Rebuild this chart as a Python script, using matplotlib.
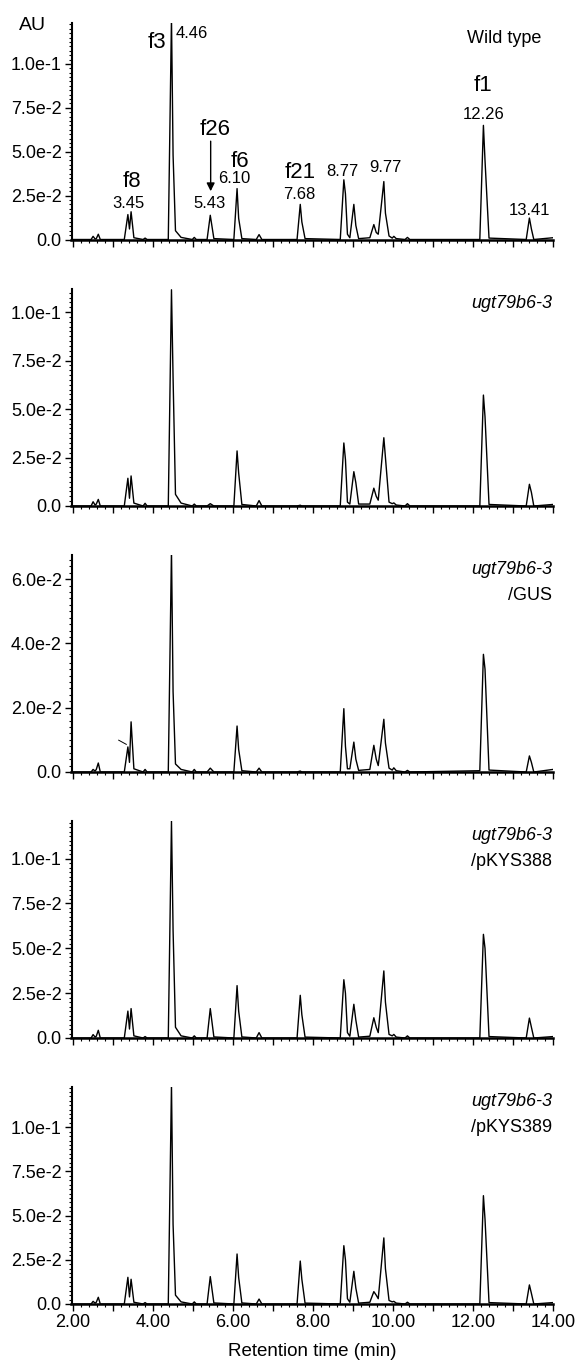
import numpy as np
import matplotlib
matplotlib.use("Agg")
import matplotlib.pyplot as plt
from matplotlib.ticker import MultipleLocator, FuncFormatter

plt.rcParams['font.family'] = ['Liberation Sans', 'DejaVu Sans']

# retention times (min) of the trace vertices, shared by all five runs
rt = [1.95, 2.45, 2.50, 2.55, 2.58, 2.63, 2.68,
      3.28, 3.37, 3.41, 3.45, 3.52,
      3.75, 3.80, 3.85,
      4.38, 4.46, 4.50, 4.56, 4.70,
      4.98, 5.03, 5.08,
      5.35, 5.43, 5.52,
      6.02, 6.10, 6.14, 6.22,
      6.58, 6.65, 6.72,
      7.60, 7.68, 7.72, 7.80,
      8.68, 8.77, 8.81, 8.86, 8.92,
      9.02, 9.07, 9.14,
      9.42, 9.52, 9.58, 9.63,
      9.77, 9.81, 9.90,
      9.98, 10.02, 10.08,
      10.30, 10.36, 10.42,
      12.17, 12.26, 12.30, 12.40,
      13.33, 13.41, 13.46, 13.52,
      14.00]

# absorbance (AU) at each vertex
wild_type = [0, 0, 0.0018, 0.0003, 0.0005, 0.0030, 0,
             0, 0.0142, 0.0060, 0.0158, 0.0010,
             0, 0.0008, 0,
             0, 0.1260, 0.0480, 0.0050, 0.0012,
             0, 0.0012, 0,
             0, 0.0138, 0.0005,
             0, 0.0290, 0.0120, 0.0005,
             0, 0.0028, 0,
             0, 0.0200, 0.0100, 0.0005,
             0, 0.0340, 0.0260, 0.0030, 0.0010,
             0.0200, 0.0080, 0.0005,
             0.0010, 0.0085, 0.0040, 0.0030,
             0.0330, 0.0150, 0.0020,
             0.0008, 0.0018, 0.0005,
             0, 0.0012, 0,
             0, 0.0650, 0.0450, 0.0008,
             0, 0.0122, 0.0060, 0,
             0.0010]

ugt79b6_3 = [0, 0, 0.0022, 0.0005, 0.0010, 0.0034, 0,
             0, 0.0143, 0.0040, 0.0155, 0.0015,
             0, 0.0014, 0,
             0, 0.1115, 0.0660, 0.0060, 0.0015,
             0, 0.0010, 0,
             0, 0.0012, 0,
             0, 0.0284, 0.0170, 0.0008,
             0, 0.0028, 0,
             0, 0.0004, 0, 0,
             0, 0.0325, 0.0240, 0.0020, 0.0010,
             0.0177, 0.0120, 0.0010,
             0.0010, 0.0092, 0.0050, 0.0030,
             0.0352, 0.0250, 0.0020,
             0.0012, 0.0016, 0.0005,
             0, 0.0012, 0,
             0, 0.0572, 0.0460, 0.0008,
             0, 0.0112, 0.0070, 0,
             0.0008]

gus = [0, 0, 0.0008, 0.0003, 0.0008, 0.0028, 0,
       0, 0.0078, 0.0030, 0.0156, 0.0010,
       0, 0.0008, 0,
       0, 0.0690, 0.0250, 0.0025, 0.0008,
       0, 0.0008, 0,
       0, 0.0012, 0,
       0, 0.0143, 0.0070, 0.0004,
       0, 0.0012, 0,
       0, 0.0003, 0, 0,
       0, 0.0197, 0.0080, 0.0010, 0.0010,
       0.0093, 0.0040, 0.0005,
       0.0008, 0.0083, 0.0040, 0.0020,
       0.0164, 0.0090, 0.0012,
       0.0006, 0.0013, 0.0004,
       0, 0.0005, 0,
       0.0004, 0.0366, 0.0320, 0.0006,
       0, 0.0050, 0.0030, 0,
       0.0008]

pkys388 = [0, 0, 0.0019, 0.0005, 0.0010, 0.0043, 0,
           0, 0.0150, 0.0050, 0.0164, 0.0012,
           0, 0.0008, 0,
           0, 0.1210, 0.0600, 0.0060, 0.0012,
           0, 0.0012, 0,
           0, 0.0164, 0.0006,
           0, 0.0292, 0.0150, 0.0006,
           0, 0.0030, 0,
           0, 0.0238, 0.0130, 0.0005,
           0, 0.0325, 0.0250, 0.0030, 0.0010,
           0.0188, 0.0100, 0.0005,
           0.0010, 0.0113, 0.0060, 0.0030,
           0.0374, 0.0200, 0.0020,
           0.0012, 0.0020, 0.0005,
           0, 0.0012, 0,
           0, 0.0578, 0.0500, 0.0008,
           0, 0.0111, 0.0060, 0,
           0.0008]

pkys389 = [0, 0, 0.0015, 0.0005, 0.0010, 0.0038, 0,
           0, 0.0151, 0.0040, 0.0140, 0.0010,
           0, 0.0008, 0,
           0, 0.1240, 0.0450, 0.0050, 0.0012,
           0, 0.0012, 0,
           0, 0.0155, 0.0006,
           0, 0.0283, 0.0150, 0.0006,
           0, 0.0028, 0,
           0, 0.0243, 0.0140, 0.0005,
           0, 0.0330, 0.0250, 0.0030, 0.0010,
           0.0185, 0.0090, 0.0005,
           0.0010, 0.0070, 0.0050, 0.0030,
           0.0374, 0.0200, 0.0020,
           0.0012, 0.0015, 0.0005,
           0, 0.0010, 0,
           0, 0.0613, 0.0480, 0.0008,
           0, 0.0108, 0.0060, 0,
           0.0008]

traces = [wild_type, ugt79b6_3, gus, pkys388, pkys389]
sample_names = [("Wild type", None),
                ("ugt79b6-3", None),
                ("ugt79b6-3", "/GUS"),
                ("ugt79b6-3", "/pKYS388"),
                ("ugt79b6-3", "/pKYS389")]
y_tops = [0.1236, 0.1119, 0.0675, 0.1210, 0.1228]
y_steps = [0.025, 0.025, 0.02, 0.025, 0.025]

# labelled peaks in the wild type run
peak_names = [("f8", 3.48, 0.0329), ("f26", 5.54, 0.0624), ("f6", 6.17, 0.0447),
              ("f21", 7.68, 0.0380), ("f1", 12.25, 0.0875)]
peak_times = [("3.45", 3.38, 0.0205), ("5.43", 5.40, 0.0205), ("6.10", 6.02, 0.0348),
              ("7.68", 7.65, 0.0259), ("8.77", 8.74, 0.0390), ("9.77", 9.80, 0.0409),
              ("12.26", 12.26, 0.0713), ("13.41", 13.40, 0.0164)]


def sci_label(v, pos):
    if abs(v) < 1e-12:
        return "0.0"
    e = int(np.floor(np.log10(abs(v)) + 1e-9))
    return f"{v / 10 ** e:.1f}e{e}"


W, H = 578, 1367
fig = plt.figure(figsize=(W / 100, H / 100), dpi=100)
left = 71.5 / W
width = (553 - 71.5) / W
ax_h = 217 / H
bottoms_px = [239.5, 506, 772, 1038, 1304]

axes = []
for i, trace in enumerate(traces):
    ax = fig.add_axes([left, 1 - bottoms_px[i] / H, width, ax_h])
    ax.plot(rt, trace, color='black', lw=1.0)
    ax.set_xlim(1.96, 14.0)
    ax.set_ylim(0, y_tops[i])
    for s in ['top', 'right']:
        ax.spines[s].set_visible(False)
    ax.spines['left'].set_linewidth(1.5)
    ax.spines['bottom'].set_linewidth(1.8)
    ax.xaxis.set_major_locator(MultipleLocator(1.0))
    ax.xaxis.set_minor_locator(MultipleLocator(0.2))
    ax.yaxis.set_major_locator(MultipleLocator(y_steps[i]))
    ax.yaxis.set_minor_locator(MultipleLocator(y_steps[i] / 10))
    ax.yaxis.set_major_formatter(FuncFormatter(sci_label))
    ax.tick_params(axis='both', which='major', direction='out', length=5, width=1.0,
                   labelsize=13, pad=2)
    ax.tick_params(axis='both', which='minor', direction='out', length=2.5, width=0.8)
    if i == len(traces) - 1:
        ax.xaxis.set_major_formatter(
            FuncFormatter(lambda v, p: f"{v:.2f}" if round(v) % 2 == 0 else ""))
        ax.set_xlabel("Retention time (min)", fontsize=13.5, labelpad=9)
    else:
        ax.set_xticklabels([])

    name, line2 = sample_names[i]
    if i == 0:
        ax.text(13.72, 0.1146, name, fontsize=13, ha='right', va='center')
    else:
        tr = ax.get_xaxis_transform()
        ax.text(13.98, 0.935, name, fontsize=13, ha='right', va='center',
                style='italic', transform=tr)
        if line2:
            ax.text(13.98, 0.812, line2, fontsize=13, ha='right', va='center',
                    transform=tr)
    axes.append(ax)

# peak annotations on the wild type chromatogram
ax0 = axes[0]
for txt, x, y in peak_names:
    ax0.text(x, y, txt, fontsize=16, ha='center', va='center')
for txt, x, y in peak_times:
    ax0.text(x, y, txt, fontsize=12, ha='center', va='center')
ax0.text(4.33, 0.112, "f3", fontsize=16, ha='right', va='center')
ax0.text(4.575, 0.1175, "4.46", fontsize=12, ha='left', va='center')
ax0.annotate("", xy=(5.44, 0.0275), xytext=(5.44, 0.0560),
             arrowprops=dict(arrowstyle='-|>', color='black', lw=1.0,
                             mutation_scale=12, shrinkA=0, shrinkB=0))

# small pointer mark next to the first peak of the GUS run
axes[2].plot([3.14, 3.33], [0.0099, 0.0086], color='black', lw=0.7)

fig.text(32 / W, 1 - 25 / H, "AU", fontsize=14, ha='center', va='center')

fig.savefig("out.png", dpi=100)
